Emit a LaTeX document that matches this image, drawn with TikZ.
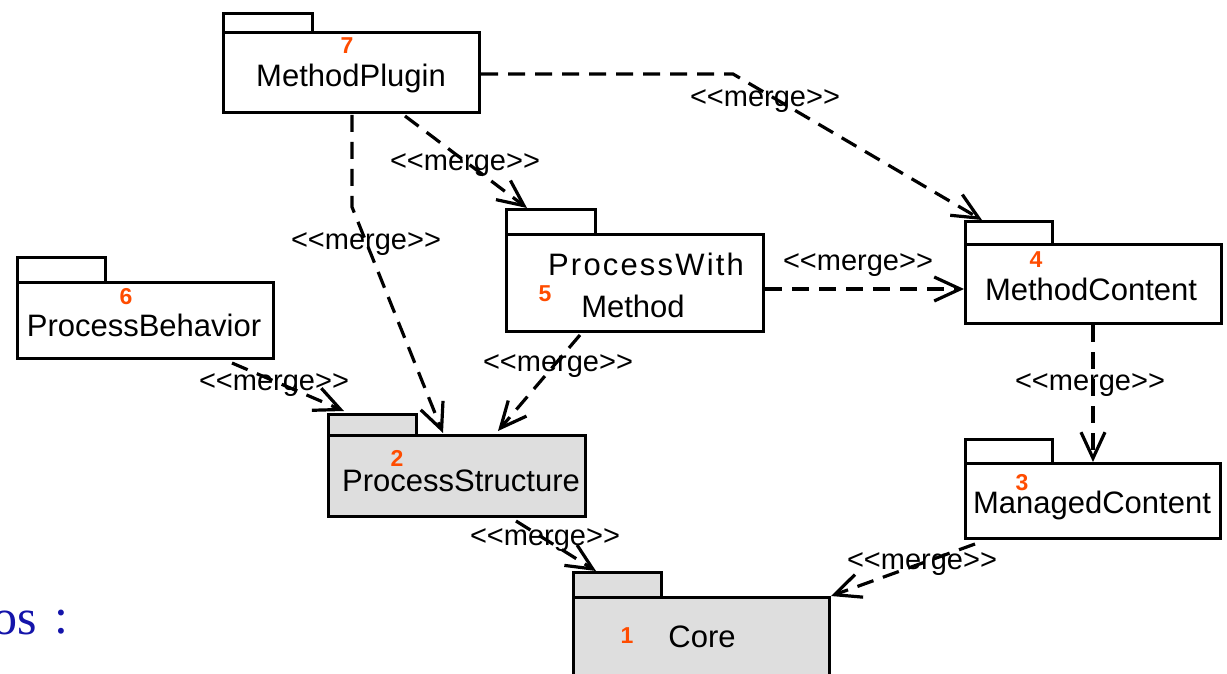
\documentclass[tikz,border=0pt]{standalone}
\usepackage{fontspec}
\setmainfont{Liberation Sans}
\newfontfamily\seriffont{Liberation Serif}
\usetikzlibrary{arrows.meta,calc}
\definecolor{numred}{RGB}{255,76,0}
\definecolor{pkggray}{RGB}{222,222,222}
\definecolor{osblue}{RGB}{20,20,170}
\newcommand{\mergetxt}{<\kern0pt<\kern0pt merge>\kern0pt>}
\begin{document}
\begin{tikzpicture}[x=1pt,y=-1pt,
  pkg/.style={draw=black, line width=3pt, rectangle, inner sep=0pt, anchor=north west, fill=white},
  greyfill/.style={fill=pkggray},
  lbl/.style={font=\fontsize{31}{36}\selectfont, inner sep=0pt},
  num/.style={font=\fontsize{23}{26}\selectfont\bfseries, text=numred, inner sep=0pt},
  merge/.style={font=\fontsize{29}{34}\selectfont, inner sep=0pt},
  dep/.style={line width=3.2pt, dash pattern=on 17pt off 10pt,
    -{Straight Barb[length=26pt,width=24pt]}}
]
\useasboundingbox (0,0) rectangle (1227,674);

% MethodPlugin
\node[pkg, minimum width=89pt, minimum height=20pt] (mpt) at (222,12) {};
\node[pkg, minimum width=256pt, minimum height=80pt] (mp) at (222,31) {};
\node[num] (n7) at (347,46) {7};
\node[lbl] (t7) at (351,78) {MethodPlugin};

% ProcessBehavior
\node[pkg, minimum width=88pt, minimum height=25pt] (pbt) at (16,256) {};
\node[pkg, minimum width=256pt, minimum height=76pt] (pb) at (16,281) {};
\node[num] (n6) at (126,297) {6};
\node[lbl] (t6) at (144,325) {ProcessBehavior};

% ProcessWithMethod
\node[pkg, minimum width=89pt, minimum height=25pt] (pwmt) at (505,208) {};
\node[pkg, minimum width=257pt, minimum height=97pt] (pwm) at (505,233) {};
\node[num] (n5) at (545,294) {5};
\node[lbl] (t5a) at (646,264) {\addfontfeature{LetterSpace=7}ProcessWith};
\node[lbl] (t5b) at (633,306) {Method};

% MethodContent
\node[pkg, minimum width=87pt, minimum height=23pt] (mct) at (964,220) {};
\node[pkg, minimum width=256pt, minimum height=79pt] (mc) at (964,243) {};
\node[num] (n4) at (1036,260) {4};
\node[lbl] (t4) at (1091,289) {MethodContent};

% ProcessStructure
\node[pkg, greyfill, minimum width=88pt, minimum height=21pt] (pst) at (327,413) {};
\node[pkg, greyfill, minimum width=257pt, minimum height=81pt] (ps) at (327,434) {};
\node[num] (n2) at (397,458) {2};
\node[lbl] (t2) at (461,481) {ProcessStructure};

% ManagedContent
\node[pkg, minimum width=87pt, minimum height=24pt] (mnt) at (964,438) {};
\node[pkg, minimum width=255pt, minimum height=75pt] (mn) at (964,462) {};
\node[num] (n3) at (1022,483) {3};
\node[lbl] (t3) at (1092,505) {ManagedContent};

% Core
\node[pkg, greyfill, minimum width=88pt, minimum height=25pt] (cot) at (572,571) {};
\node[pkg, greyfill, minimum width=256pt, minimum height=110pt] (co) at (572,596) {};
\node[num] (n1) at (627,636) {1};
\node[lbl] (t1) at (702,637) {Core};

% connectors
\coordinate (b1) at (733,74);
\draw[dep] ($(mp.north east)+(0,43)$) -- (b1) -- ($(mct.north west)+(18,0)$);
\draw[dep] ($(mp.south west)+(183,2)$) -- ($(pwmt.north west)+(22,0)$);
\coordinate (b3) at (352,207);
\draw[dep] ($(mp.south west)+(130,1)$) -- (b3) -- ($(pst.south east)+(25,-4)$);
\draw[dep] ($(pwm.south west)+(75,2)$) -- ($(ps.north west)+(171,-3)$);
\draw[dep] ($(pb.south west)+(216,3)$) -- ($(pst.north west)+(17,-2)$);
\coordinate (s6) at ($(pwm.south east)+(0,-44)$);
\draw[dep] (s6) -- (s6 -| mc.west);
\coordinate (s7) at ($(mc.south west)+(129,0)$);
\draw[dep] (s7) -- (s7 |- mn.north);
\draw[dep] ($(ps.south west)+(189,3)$) -- ($(cot.north west)+(24,0)$);
\draw[dep] ($(mn.south west)+(11,4)$) -- (co.north east);

% labels
\node[merge] (m1) at (765,101) {\mergetxt};
\node[merge] (m2) at (465,165) {\mergetxt};
\node[merge] (m3) at (366,244) {\mergetxt};
\node[merge] (m4) at (558,366) {\mergetxt};
\node[merge] (m5) at (274,385) {\mergetxt};
\node[merge] (m6) at (858,265) {\mergetxt};
\node[merge] (m7) at (1090,385) {\mergetxt};
\node[merge] (m8) at (545,540) {\mergetxt};
\node[merge] (m9) at (922,564) {\mergetxt};

% partial blue text
\node[anchor=base east, inner sep=0pt, text=osblue, font=\seriffont\fontsize{50}{56}\selectfont] (os) at (37,634) {os};
\node[anchor=base, inner sep=0pt, text=osblue, font=\seriffont\fontsize{50}{56}\selectfont] (colon) at (61,633) {:};
\end{tikzpicture}
\end{document}
